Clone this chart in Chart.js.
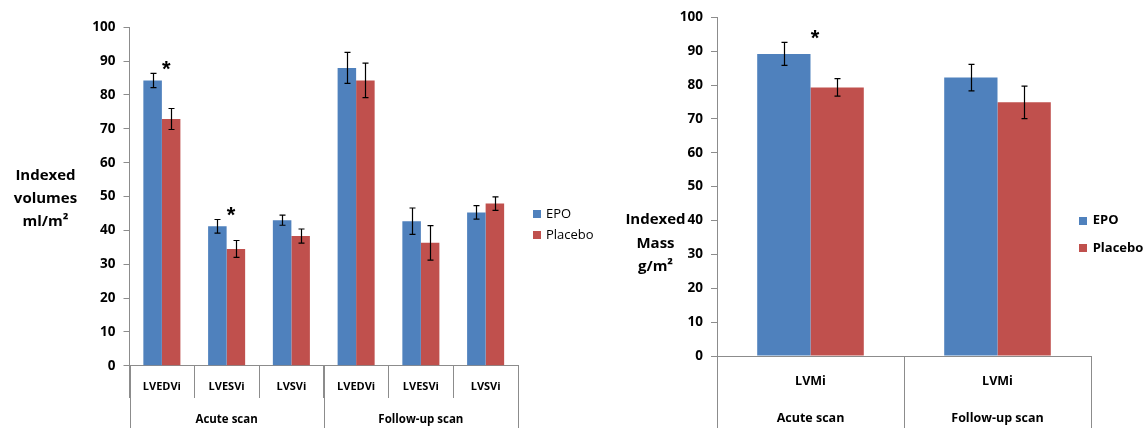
<!DOCTYPE html>
<html><head><meta charset="utf-8">
<script src="https://cdn.jsdelivr.net/npm/chart.js@4.4.1/dist/chart.umd.min.js"></script>
<style>
html,body{margin:0;padding:0;background:#fff;}
#wrap{position:relative;width:1144px;height:428px;overflow:hidden;background:#fff;}
canvas{position:absolute;top:0;}
</style></head><body>
<div id="wrap">
<canvas id="vol" width="600" height="428" style="left:0px"></canvas>
<canvas id="mass" width="544" height="428" style="left:600px"></canvas>
</div>
<script>
// ---- data: left chart (indexed volumes) ----
const volumeCategories = ['LVEDVi', 'LVESVi', 'LVSVi', 'LVEDVi', 'LVESVi', 'LVSVi'];
const volumeGroups = ['Acute scan', 'Follow-up scan'];
const volumeEPO = [84.3, 41.2, 43.0, 88.0, 42.7, 45.3];
const volumeEPOErr = [2.1, 2.0, 1.5, 4.6, 3.9, 2.0];
const volumePlacebo = [72.9, 34.5, 38.3, 84.3, 36.3, 47.9];
const volumePlaceboErr = [3.1, 2.5, 2.1, 5.1, 5.1, 2.0];
const volumeSignificant = [true, true, false, false, false, false];

// ---- data: right chart (indexed mass) ----
const massCategories = ['LVMi', 'LVMi'];
const massGroups = ['Acute scan', 'Follow-up scan'];
const massEPO = [89.2, 82.2];
const massEPOErr = [3.4, 3.9];
const massPlacebo = [79.3, 74.9];
const massPlaceboErr = [2.6, 4.8];
const massSignificant = [true, false];

// ---- shared axis ticks / series names ----
const yTicks = [0, 10, 20, 30, 40, 50, 60, 70, 80, 90, 100];
const seriesNames = ['EPO', 'Placebo'];

const FONT = '"Open Sans", "Liberation Sans", sans-serif';
const AXIS_GRAY = '#8c8c8c';
const COLORS = ['#4F81BD', '#C0504D'];

const errorBarPlugin = {
  id: 'errorBars',
  afterDatasetsDraw(chart) {
    const ctx = chart.ctx, y = chart.scales.y;
    chart.data.datasets.forEach((ds, di) => {
      const meta = chart.getDatasetMeta(di);
      meta.data.forEach((bar, i) => {
        const v = ds.data[i], e = ds.errors[i];
        const yt = y.getPixelForValue(v + e), yb = y.getPixelForValue(v - e);
        const x = Math.round(bar.x) + 0.5;
        ctx.save();
        ctx.strokeStyle = '#000'; ctx.lineWidth = 1.2;
        ctx.beginPath();
        ctx.moveTo(x, yt); ctx.lineTo(x, yb);
        ctx.moveTo(x - 3, yt); ctx.lineTo(x + 3, yt);
        ctx.moveTo(x - 3, yb); ctx.lineTo(x + 3, yb);
        ctx.stroke();
        ctx.restore();
      });
    });
  }
};

const asteriskPlugin = {
  id: 'asterisks',
  afterDatasetsDraw(chart, args, opts) {
    const ctx = chart.ctx, x = chart.scales.x, y = chart.scales.y;
    ctx.save();
    ctx.fillStyle = '#000';
    ctx.font = 'bold 22px "Liberation Sans", sans-serif';
    ctx.textAlign = 'center';
    ctx.textBaseline = 'alphabetic';
    const m = ctx.measureText('*');
    const half = (m.actualBoundingBoxAscent - m.actualBoundingBoxDescent) / 2;
    opts.significant.forEach((sig, i) => {
      if (!sig) return;
      let top = Infinity;
      chart.data.datasets.forEach(ds => {
        top = Math.min(top, y.getPixelForValue(ds.data[i] + ds.errors[i]));
      });
      const cy = top - opts.gap;
      ctx.fillText('*', x.getPixelForValue(i) + opts.dx, cy + half);
    });
    ctx.restore();
  }
};

const multiAxisPlugin = {
  id: 'multiAxis',
  afterDraw(chart, args, opts) {
    const ctx = chart.ctx, x = chart.scales.x;
    const n = chart.data.labels.length;
    const cw = (x.right - x.left) / n;
    const bottom = chart.chartArea.bottom;
    ctx.save();
    ctx.fillStyle = '#000';
    ctx.textAlign = 'center';
    ctx.textBaseline = 'middle';
    ctx.font = 'bold ' + opts.labelSize + 'px ' + FONT;
    chart.data.labels.forEach((l, i) => ctx.fillText(l, x.getPixelForValue(i), bottom + opts.labelOffset));
    const per = n / opts.groups.length;
    ctx.font = 'bold ' + opts.groupSize + 'px ' + FONT;
    opts.groups.forEach((g, gi) => {
      const cx = (x.getPixelForValue(gi * per) + x.getPixelForValue(gi * per + per - 1)) / 2;
      ctx.fillText(g, cx, bottom + opts.groupOffset);
    });
    ctx.strokeStyle = AXIS_GRAY; ctx.lineWidth = 1;
    for (let gi = 0; gi <= opts.groups.length; gi++) {
      const bx = Math.round(x.left + gi * per * cw) + 0.5;
      ctx.beginPath(); ctx.moveTo(bx, bottom); ctx.lineTo(bx, chart.height); ctx.stroke();
    }
    ctx.restore();
  }
};

const yTitlePlugin = {
  id: 'yTitle',
  afterDraw(chart, args, opts) {
    const ctx = chart.ctx;
    ctx.save();
    ctx.fillStyle = '#000';
    ctx.font = 'bold ' + opts.size + 'px ' + FONT;
    ctx.textAlign = 'center';
    ctx.textBaseline = 'middle';
    opts.lines.forEach((t, i) => ctx.fillText(t, opts.x, opts.y + i * opts.lineHeight));
    ctx.restore();
  }
};

const legendPlugin = {
  id: 'sideLegend',
  afterDraw(chart, args, opts) {
    const ctx = chart.ctx;
    ctx.save();
    ctx.font = opts.weight + ' 13px ' + FONT;
    ctx.textBaseline = 'middle';
    ctx.textAlign = 'left';
    chart.data.datasets.forEach((ds, i) => {
      const cy = opts.y + i * opts.spacing;
      ctx.fillStyle = ds.backgroundColor;
      ctx.fillRect(opts.x, Math.round(cy - 4), 8, 8);
      ctx.fillStyle = '#000';
      ctx.fillText(ds.label, opts.x + opts.textGap, cy);
    });
    ctx.restore();
  }
};

function makeChart(id, cfg) {
  const datasets = cfg.series.map((s, i) => ({
    label: seriesNames[i],
    data: s.values,
    errors: s.errors,
    backgroundColor: COLORS[i],
    borderWidth: 0,
    categoryPercentage: cfg.catPct,
    barPercentage: 1
  }));
  return new Chart(document.getElementById(id), {
    type: 'bar',
    data: { labels: cfg.labels, datasets },
    plugins: [errorBarPlugin, asteriskPlugin, multiAxisPlugin, yTitlePlugin, legendPlugin],
    options: {
      responsive: false,
      animation: false,
      devicePixelRatio: 1,
      events: [],
      layout: { padding: cfg.padding },
      plugins: {
        legend: { display: false },
        tooltip: { enabled: false },
        asterisks: { significant: cfg.significant, gap: 8, dx: 4.5 },
        multiAxis: cfg.axis,
        yTitle: cfg.title,
        sideLegend: cfg.legend
      },
      scales: {
        x: {
          offset: true,
          grid: { offset: true, drawOnChartArea: false, drawTicks: true, tickLength: cfg.sepLength, color: AXIS_GRAY, lineWidth: 1 },
          border: { display: true, color: AXIS_GRAY, width: 1 },
          ticks: { display: false },
          afterFit(s) { s.height = cfg.xHeight; }
        },
        y: {
          min: 0, max: 100,
          afterBuildTicks(s) { s.ticks = yTicks.map(v => ({ value: v })); },
          ticks: { color: '#000', padding: 8, font: { family: FONT, size: 13.5, weight: 'bold' } },
          grid: { drawOnChartArea: false, drawTicks: true, tickLength: 6, color: AXIS_GRAY },
          border: { display: true, color: AXIS_GRAY, width: 1 },
          afterFit(s) { s.width = cfg.yWidth; }
        }
      }
    }
  });
}

makeChart('vol', {
  labels: volumeCategories,
  series: [{ values: volumeEPO, errors: volumeEPOErr }, { values: volumePlacebo, errors: volumePlaceboErr }],
  significant: volumeSignificant,
  catPct: 0.572,
  padding: { left: 0, top: 27.3, right: 82, bottom: 0 },
  yWidth: 129.5,
  xHeight: 62.3,
  sepLength: 32.3,
  axis: { groups: volumeGroups, labelOffset: 21.5, groupOffset: 54, labelSize: 11, groupSize: 11.5 },
  title: { lines: ['Indexed', 'volumes', 'ml/m²'], x: 45.5, y: 175.5, lineHeight: 23, size: 15 },
  legend: { x: 533, y: 213.8, spacing: 21, textGap: 13, weight: 'normal' }
});

makeChart('mass', {
  labels: massCategories,
  series: [{ values: massEPO, errors: massEPOErr }, { values: massPlacebo, errors: massPlaceboErr }],
  significant: massSignificant,
  catPct: 0.57,
  padding: { left: 0, top: 17.3, right: 53, bottom: 0 },
  yWidth: 117,
  xHeight: 72,
  sepLength: 72,
  axis: { groups: massGroups, labelOffset: 25, groupOffset: 62.3, labelSize: 12.5, groupSize: 12.5 },
  title: { lines: ['Indexed', 'Mass', 'g/m²'], x: 55.5, y: 220, lineHeight: 23.5, size: 15 },
  legend: { x: 479, y: 220.7, spacing: 27.6, textGap: 13.7, weight: 'bold' }
});
</script>
</body></html>
